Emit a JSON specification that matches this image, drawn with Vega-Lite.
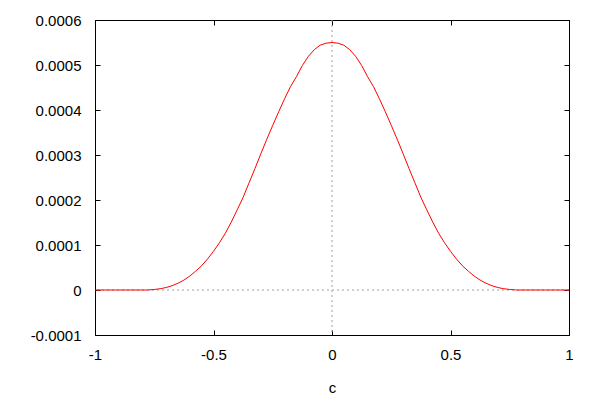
{
  "$schema": "https://vega.github.io/schema/vega-lite/v6.json",
  "width": 474,
  "height": 315,
  "autosize": {"type": "none"},
  "padding": {"left": 95, "top": 20, "right": 31, "bottom": 65},
  "background": "white",
  "config": {
    "view": {"stroke": "black", "strokeWidth": 1},
    "font": "Liberation Sans",
    "axis": {"grid": false, "domain": false, "tickColor": "black", "tickSize": -5, "tickWidth": 1, "labelFontSize": 15, "labelColor": "black", "titleFontSize": 15, "titleColor": "black", "titleFontWeight": "normal", "labelFont": "Liberation Sans", "titleFont": "Liberation Sans", "labelFlush": false, "labelExpr": "replace(datum.label, '\u2212', '-')"}
  },
  "datasets": {
    "curve": [
      {"c": -1.0, "v": 0}, {"c": -0.9, "v": 0}, {"c": -0.78, "v": 0},
      {"c": -0.775, "v": 0.0000002}, {"c": -0.75, "v": 0.0000012}, {"c": -0.725, "v": 0.0000028},
      {"c": -0.7, "v": 0.0000055}, {"c": -0.675, "v": 0.0000095}, {"c": -0.65, "v": 0.000015},
      {"c": -0.625, "v": 0.000022}, {"c": -0.6, "v": 0.000031}, {"c": -0.575, "v": 0.000042},
      {"c": -0.55, "v": 0.000054}, {"c": -0.525, "v": 0.000069}, {"c": -0.5, "v": 0.000086},
      {"c": -0.475, "v": 0.000105}, {"c": -0.45, "v": 0.000126}, {"c": -0.425, "v": 0.000151},
      {"c": -0.4, "v": 0.000178}, {"c": -0.375, "v": 0.000206}, {"c": -0.35, "v": 0.000238},
      {"c": -0.325, "v": 0.00027}, {"c": -0.3, "v": 0.000303}, {"c": -0.275, "v": 0.000335},
      {"c": -0.25, "v": 0.000366}, {"c": -0.225, "v": 0.000396}, {"c": -0.2, "v": 0.000425},
      {"c": -0.175, "v": 0.000452}, {"c": -0.15, "v": 0.000474}, {"c": -0.125, "v": 0.000499},
      {"c": -0.1, "v": 0.000519}, {"c": -0.075, "v": 0.000534}, {"c": -0.05, "v": 0.000544},
      {"c": -0.025, "v": 0.0005485},
      {"c": 0.0, "v": 0.00055},
      {"c": 0.025, "v": 0.0005485}, {"c": 0.05, "v": 0.000544}, {"c": 0.075, "v": 0.000534},
      {"c": 0.1, "v": 0.000519}, {"c": 0.125, "v": 0.000499}, {"c": 0.15, "v": 0.000474},
      {"c": 0.175, "v": 0.000452}, {"c": 0.2, "v": 0.000425}, {"c": 0.225, "v": 0.000396},
      {"c": 0.25, "v": 0.000366}, {"c": 0.275, "v": 0.000335}, {"c": 0.3, "v": 0.000303},
      {"c": 0.325, "v": 0.00027}, {"c": 0.35, "v": 0.000238}, {"c": 0.375, "v": 0.000206},
      {"c": 0.4, "v": 0.000178}, {"c": 0.425, "v": 0.000151}, {"c": 0.45, "v": 0.000126},
      {"c": 0.475, "v": 0.000105}, {"c": 0.5, "v": 0.000086}, {"c": 0.525, "v": 0.000069},
      {"c": 0.55, "v": 0.000054}, {"c": 0.575, "v": 0.000042}, {"c": 0.6, "v": 0.000031},
      {"c": 0.625, "v": 0.000022}, {"c": 0.65, "v": 0.000015}, {"c": 0.675, "v": 0.0000095},
      {"c": 0.7, "v": 0.0000055}, {"c": 0.725, "v": 0.0000028}, {"c": 0.75, "v": 0.0000012},
      {"c": 0.775, "v": 0.0000002}, {"c": 0.78, "v": 0}, {"c": 0.9, "v": 0}, {"c": 1.0, "v": 0}
    ],
    "zeros": [{"z": 0}]
  },
  "resolve": {"axis": {"x": "independent", "y": "independent"}},
  "layer": [
    {
      "data": {"name": "zeros"},
      "mark": {"type": "rule", "color": "#a0a0a0", "strokeDash": [2, 3], "strokeWidth": 1},
      "encoding": {
        "y": {"field": "z", "type": "quantitative", "scale": {"domain": [-0.0001, 0.0006]},
          "axis": {"orient": "right", "labels": false, "title": null, "values": [-0.0001, 0, 0.0001, 0.0002, 0.0003, 0.0004, 0.0005, 0.0006]}}
      }
    },
    {
      "data": {"name": "zeros"},
      "mark": {"type": "rule", "color": "#a0a0a0", "strokeDash": [2, 3], "strokeWidth": 1},
      "encoding": {
        "x": {"field": "z", "type": "quantitative", "scale": {"domain": [-1, 1]},
          "axis": {"orient": "top", "labels": false, "title": null, "values": [-1, -0.5, 0, 0.5, 1]}}
      }
    },
    {
      "data": {"name": "curve"},
      "mark": {"type": "line", "color": "#ff0000", "strokeWidth": 1},
      "encoding": {
        "x": {"field": "c", "type": "quantitative", "scale": {"domain": [-1, 1], "nice": false},
          "axis": {"orient": "bottom", "title": "c", "values": [-1, -0.5, 0, 0.5, 1], "labelPadding": 17, "titlePadding": 18, "format": "~g"}},
        "y": {"field": "v", "type": "quantitative", "scale": {"domain": [-0.0001, 0.0006], "nice": false},
          "axis": {"orient": "left", "title": null, "values": [-0.0001, 0, 0.0001, 0.0002, 0.0003, 0.0004, 0.0005, 0.0006], "labelPadding": 19, "format": "~g"}}
      }
    }
  ]
}
